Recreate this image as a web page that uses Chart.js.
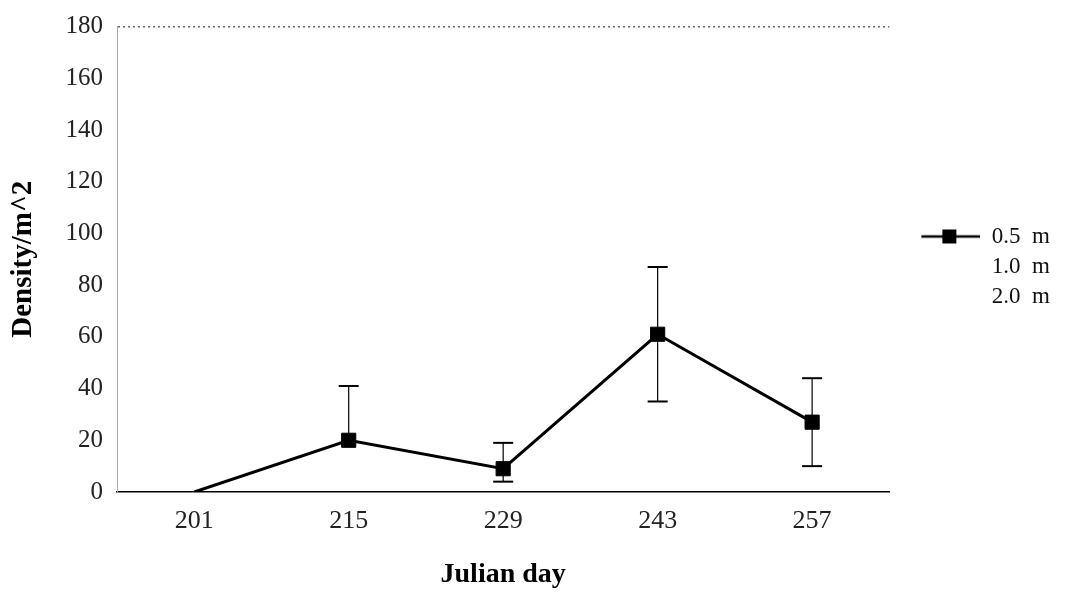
<!DOCTYPE html>
<html>
<head>
<meta charset="utf-8">
<script src="https://cdn.jsdelivr.net/npm/chart.js@4.4.1/dist/chart.umd.min.js"></script>
<style>
  html, body { margin: 0; padding: 0; background: #fff; }
  #wrap { width: 1070px; height: 592px; }
</style>
</head>
<body>
<div id="wrap"><canvas id="c" width="1070" height="592"></canvas></div>
<script>
// ---- data ----
const days = ['201', '215', '229', '243', '257'];
const depth05 = [0, 20, 9, 61, 27];
const errPlus05 = [0, 21, 10, 26, 17];
const errMinus05 = [0, 0, 5, 26, 17];
const depth10 = [null, null, null, null, null];
const depth20 = [null, null, null, null, null];
const seriesNames = ['0.5  m', '1.0  m', '2.0  m'];
const yMin = 0, yMax = 180, yStep = 20;

const SERIF = '"Liberation Serif", "Times New Roman", serif';

// legend symbol: line with square marker (left part blank for spacing)
function makeLegendSymbol(withMarker) {
  const cv = document.createElement('canvas');
  cv.width = 84; cv.height = 16;
  const g = cv.getContext('2d');
  if (withMarker) {
    g.strokeStyle = '#000';
    g.lineWidth = 2.5;
    g.beginPath(); g.moveTo(25, 8); g.lineTo(84, 8); g.stroke();
    g.fillStyle = '#000';
    g.fillRect(46, 1, 14, 14);
  }
  return cv;
}
const symMain = makeLegendSymbol(true);
const symBlank = makeLegendSymbol(false);

const errorBars = {
  id: 'errorBars',
  afterDatasetsDraw(chart) {
    const ctx = chart.ctx;
    const xs = chart.scales.x, ys = chart.scales.y;
    ctx.save();
    ctx.strokeStyle = '#000';
    depth05.forEach((v, i) => {
      if (v === null) return;
      if (errPlus05[i] === 0 && errMinus05[i] === 0) return;
      const x = xs.getPixelForValue(i);
      const yTop = ys.getPixelForValue(v + errPlus05[i]);
      const yBot = ys.getPixelForValue(Math.max(yMin, v - errMinus05[i]));
      ctx.lineWidth = 1.2;
      ctx.beginPath(); ctx.moveTo(x, yTop); ctx.lineTo(x, yBot); ctx.stroke();
      ctx.lineWidth = 2;
      if (errPlus05[i] > 0) { ctx.beginPath(); ctx.moveTo(x - 10, yTop); ctx.lineTo(x + 10, yTop); ctx.stroke(); }
      if (errMinus05[i] > 0 && v - errMinus05[i] > yMin) { ctx.beginPath(); ctx.moveTo(x - 10, yBot); ctx.lineTo(x + 10, yBot); ctx.stroke(); }
    });
    ctx.restore();
  }
};

new Chart(document.getElementById('c'), {
  type: 'line',
  data: {
    labels: days,
    datasets: [
      {
        label: seriesNames[0],
        data: depth05,
        borderColor: '#000',
        backgroundColor: '#000',
        borderWidth: 3,
        pointStyle: 'rect',
        pointRadius: ctx => ctx.dataIndex === 0 ? 0 : 10,
        pointHoverRadius: 10,
        pointBorderWidth: 1,
        tension: 0
      },
      { label: seriesNames[1], data: depth10, borderColor: 'rgba(0,0,0,0)', backgroundColor: 'rgba(0,0,0,0)', pointRadius: 0 },
      { label: seriesNames[2], data: depth20, borderColor: 'rgba(0,0,0,0)', backgroundColor: 'rgba(0,0,0,0)', pointRadius: 0 }
    ]
  },
  options: {
    responsive: false,
    animation: false,
    devicePixelRatio: 1,
    layout: { padding: { top: 20, right: 10, bottom: 0, left: 0 } },
    scales: {
      x: {
        type: 'category',
        offset: true,
        grid: { display: false, drawTicks: false },
        border: { display: true, color: '#000', width: 1.5 },
        ticks: { color: '#222', font: { family: SERIF, size: 26 }, padding: 14 },
        title: { display: true, text: 'Julian day', color: '#000', font: { family: SERIF, size: 28, weight: 'bold' }, padding: { top: 0, bottom: 0 } },
        afterFit(s) { s.height = 100; }
      },
      y: {
        min: yMin, max: yMax,
        ticks: { stepSize: yStep, color: '#222', font: { family: SERIF, size: 25, lineHeight: 1 }, padding: 14 },
        grid: {
          drawTicks: false,
          color: c => (c.tick && c.tick.value === yMax) ? '#666' : 'rgba(0,0,0,0)',
          lineWidth: 1.5
        },
        border: { display: true, color: '#aaa', width: 1, dash: [2, 3] },
        title: { display: true, text: 'Density/m^2', color: '#000', font: { family: SERIF, size: 29, weight: 'bold' }, padding: { top: 6, bottom: 0 } },
        afterFit(s) { s.width = 117; }
      }
    },
    plugins: {
      legend: {
        display: true,
        position: 'right',
        align: 'start',
        title: { display: true, text: ' ', color: 'rgba(0,0,0,0)', font: { size: 10 }, padding: { top: 93, bottom: 93 } },
        labels: {
          usePointStyle: true,
          pointStyleWidth: 84,
          boxHeight: 16,
          padding: 7,
          color: '#111',
          font: { family: SERIF, size: 23 },
          generateLabels(chart) {
            const items = Chart.defaults.plugins.legend.labels.generateLabels(chart);
            items.forEach((it, i) => { it.pointStyle = i === 0 ? symMain : symBlank; it.fontColor = '#111'; });
            return items;
          }
        }
      },
      tooltip: { enabled: false }
    }
  },
  plugins: [errorBars]
});
</script>
</body>
</html>
